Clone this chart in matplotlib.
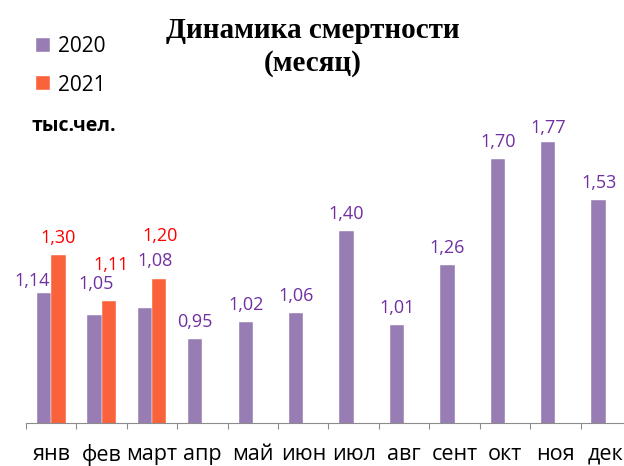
import matplotlib
matplotlib.use("Agg")
import matplotlib.pyplot as plt
import numpy as np

# data
months = ["янв", "фев", "март", "апр", "май", "июн", "июл", "авг", "сент", "окт", "ноя", "дек"]
deaths_2020 = [1.14, 1.05, 1.08, 0.95, 1.02, 1.06, 1.40, 1.01, 1.26, 1.70, 1.77, 1.53]
deaths_2021 = [1.30, 1.11, 1.20]
series_names = ["2020", "2021"]

PURPLE = "#977db3"
ORANGE = "#f9623a"
LBL_PURPLE = "#7030a0"
LBL_RED = "#ff0000"
AXIS_GRAY = "#8c8c8c"

W, H = 624, 466
BAR_W = 0.285

# label nudges in pixels (dx, height of label centre above bar top)
nudge_2020 = {0: (-12, 12), 1: (1.5, 31), 2: (10, 47), 10: (0, 14)}
nudge_2021 = {0: (-0.5, 17), 1: (2, 36), 2: (1, 43)}

plt.rcParams["font.family"] = ["Open Sans", "DejaVu Sans"]

fig = plt.figure(figsize=(W / 100, H / 100), dpi=100)
px_per_unit = 239.9
ymin, ymax = 0.6, 2.0
ax_h = (ymax - ymin) * px_per_unit / H
ax = fig.add_axes([26 / W, (H - 423) / H, 605 / W, ax_h])

x = np.arange(len(months))
b20 = ax.bar(x - BAR_W / 2, deaths_2020, BAR_W, color=PURPLE,
             edgecolor="white", linewidth=0.3, label=series_names[0])
x21 = np.arange(len(deaths_2021))
b21 = ax.bar(x21 + BAR_W / 2, deaths_2021, BAR_W, color=ORANGE,
             edgecolor="white", linewidth=0.3, label=series_names[1])

ax.set_xlim(-0.5, len(months) - 0.5)
ax.set_ylim(ymin, ymax)


def add_labels(xs, vals, color, nudges):
    for i, (xi, v) in enumerate(zip(xs, vals)):
        dx, dy = nudges.get(i, (0, 17))
        ax.annotate(f"{v:.2f}".replace(".", ","), (xi, v), xytext=(dx, dy),
                    textcoords="offset pixels", ha="center", va="center",
                    fontsize=13, color=color)


add_labels(x - BAR_W / 2, deaths_2020, LBL_PURPLE, nudge_2020)
add_labels(x21 + BAR_W / 2, deaths_2021, LBL_RED, nudge_2021)

for side in ["left", "right", "top"]:
    ax.spines[side].set_visible(False)
ax.spines["bottom"].set_color(AXIS_GRAY)
ax.spines["bottom"].set_linewidth(0.8)
ax.set_yticks([])
ax.set_xticks(x)
ax.set_xticklabels(months, fontsize=15.5)
ax.set_xticks(np.arange(-0.5, len(months)), minor=True)
ax.tick_params(axis="x", which="major", length=0, pad=15)
ax.tick_params(axis="x", which="minor", length=4.5, width=0.8, color=AXIS_GRAY,
               direction="out")

fig.legend(handles=[b20, b21], loc="upper left", bbox_to_anchor=(36 / W, 1 - 36 / H),
           frameon=False, fontsize=15, handlelength=0.65, handleheight=0.65,
           handletextpad=0.4, labelspacing=0.85, borderpad=0, borderaxespad=0)

fig.text(32 / W, 1 - 126 / H, "тыс.чел.", fontsize=14, fontweight="bold",
         ha="left", va="center")

fig.text(313 / W, 1 - 47 / H, "Динамика смертности\n(месяц)", ha="center", va="center",
         fontsize=21, fontweight="bold", family="Liberation Serif", linespacing=1.27)

fig.savefig("out.png", dpi=100)
